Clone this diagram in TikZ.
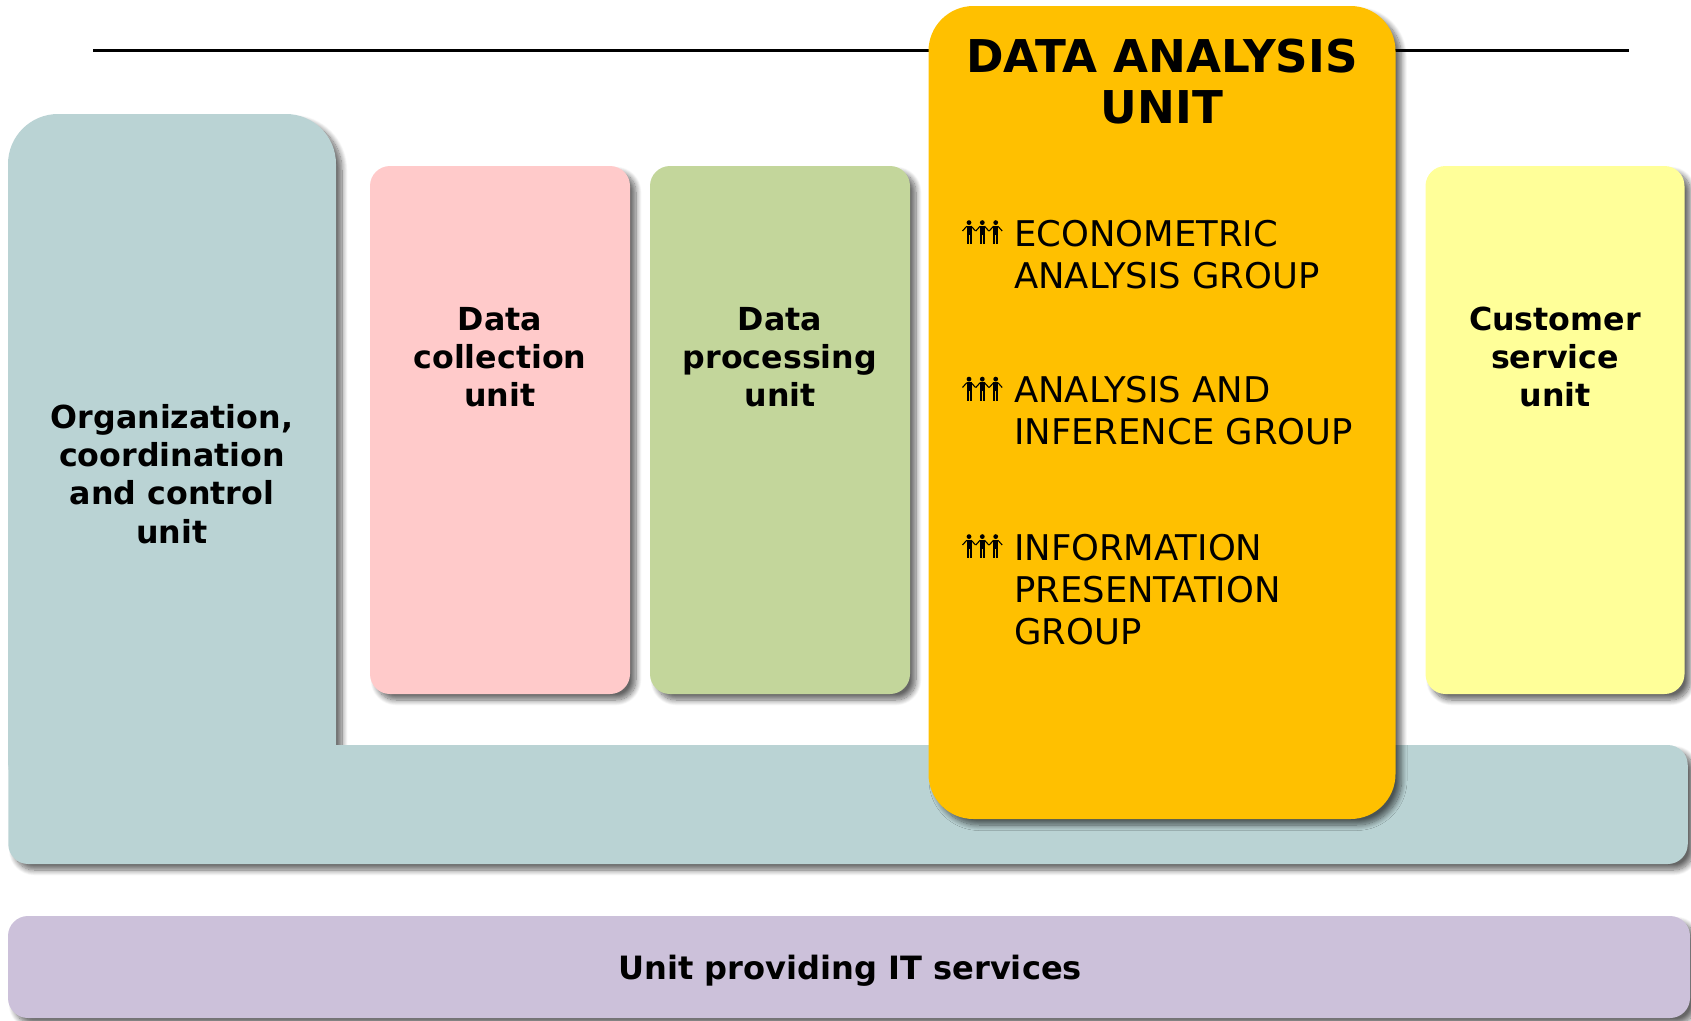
\documentclass[tikz,border=0pt]{standalone}
\usepackage{fontspec}
\setmainfont{DejaVu Sans}
\usetikzlibrary{shadows.blur}
\definecolor{tealunit}{HTML}{BAD3D4}
\definecolor{pinkunit}{HTML}{FFCACA}
\definecolor{greenunit}{HTML}{C3D69B}
\definecolor{orangeunit}{HTML}{FFC000}
\definecolor{yellowunit}{HTML}{FFFF99}
\definecolor{purpleunit}{HTML}{CCC1DA}
\tikzset{people/.pic={
  \foreach \cx in {7,20.3,33.7} {
    \fill (\cx,2.6) circle (2.4);
    \fill (\cx-2.5,5.5) rectangle (\cx+2.5,14.5);
    \fill (\cx-2.5,14) rectangle (\cx-0.5,24);
    \fill (\cx+0.5,14) rectangle (\cx+2.5,24);
    \draw[line width=1.1pt] (\cx-2.2,6.2) -- (\cx-6.5,11);
    \draw[line width=1.1pt] (\cx+2.2,6.2) -- (\cx+6.5,11);
  }
}}
\begin{document}
\begin{tikzpicture}[x = 1pt, y = -1pt]
\tikzstyle{UnitStyle}=[shape = rectangle,
                       inner sep = 0pt,
                       rounded corners = 20pt,
                       blur shadow = {shadow xshift = 6pt, shadow yshift = -6pt, shadow blur radius = 5.5pt, shadow blur steps = 12, shadow opacity = 60}]
\tikzstyle{BoldStyle}=[align = center, font = \fontsize{31.7}{38.3}\selectfont\bfseries]
\tikzstyle{GroupStyle}=[align = left, anchor = north west, inner sep = 0pt, font = \fontsize{35.4}{42}\selectfont]
\useasboundingbox (0,0) rectangle (1691,1020);
\node[UnitStyle, rounded corners = 50pt, fill = tealunit, minimum width = 328pt, minimum height = 696pt] (org) at (172,462) {};
\node[UnitStyle, fill = tealunit, minimum width = 1679.5pt, minimum height = 119pt] (bar) at (848,804.5) {};
\node[UnitStyle, fill = purpleunit, minimum width = 1682pt, minimum height = 102pt] (it) at (849,967) {};
\node[UnitStyle, fill = pinkunit, minimum width = 260pt, minimum height = 528pt] (collect) at (500,430) {};
\node[UnitStyle, fill = greenunit, minimum width = 260pt, minimum height = 528pt] (process) at (780,430) {};
\node[UnitStyle, fill = yellowunit, minimum width = 259pt, minimum height = 528pt] (service) at (1555,430) {};
\coordinate (lineL) at (93,50.5);
\coordinate (lineR) at (1629,50.5);
\draw[line width = 3pt] (lineL) -- (lineR);
\node[UnitStyle, rounded corners = 45pt, fill = orangeunit, minimum width = 467pt, minimum height = 813pt] (analysis) at (1162,412.5) {};
\node[BoldStyle] (orgtext) at (172,474) {Organization,\\coordination\\and control\\unit};
\node[BoldStyle] (collecttext) at (500,357) {Data\\collection\\unit};
\node[BoldStyle] (processtext) at (780,357) {Data\\processing\\unit};
\node[BoldStyle] (servicetext) at (1555,357) {Customer\\service\\unit};
\node[BoldStyle, font = \fontsize{32.1}{38.3}\selectfont\bfseries] (ittext) at (850,971) {Unit providing IT services};
\node[align = center, font = \fontsize{45.2}{51}\selectfont\bfseries] (title) at (1162,81.5) {DATA ANALYSIS\\UNIT};
\pic at (962,220) {people};
\pic at (962,376.5) {people};
\pic at (962,534) {people};
\node[GroupStyle] (econ) at (1014,220) {ECONOMETRIC\\ANALYSIS GROUP};
\node[GroupStyle] (infer) at (1014,376.5) {ANALYSIS AND\\INFERENCE GROUP};
\node[GroupStyle] (present) at (1014,534) {INFORMATION\\PRESENTATION\\GROUP};
\end{tikzpicture}
\end{document}
